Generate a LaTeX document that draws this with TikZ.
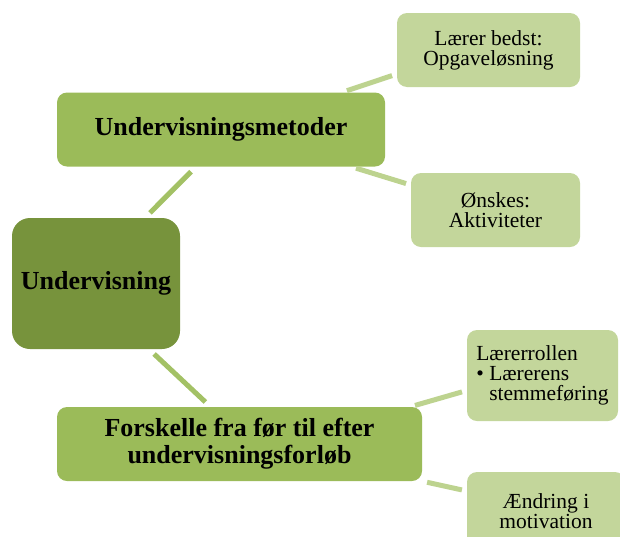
\documentclass[tikz,border=0pt]{standalone}
\usepackage{fontspec}
\setmainfont{Liberation Serif}
\usepackage{xcolor}
\usepackage{tikz}
\usetikzlibrary{positioning,calc}
\definecolor{rootgreen}{HTML}{77933C}
\definecolor{midgreen}{HTML}{9BBB59}
\definecolor{lightgreen}{HTML}{C3D69B}
\definecolor{trunkline}{HTML}{A3C165}
\definecolor{branchline}{HTML}{BDD38F}

\begin{document}
\begin{tikzpicture}[
    x=1pt, y=-1pt,
    rootbox/.style={rectangle, rounded corners=18pt, fill=rootgreen, inner sep=0pt, minimum width=168pt, minimum height=131pt, text centered, font=\fontsize{26}{28}\selectfont\bfseries},
    topic/.style={rectangle, rounded corners=10pt, fill=midgreen, inner sep=0pt, minimum height=74pt, align=center, font=\fontsize{26}{27}\selectfont\bfseries},
    leaf/.style={rectangle, rounded corners=10pt, fill=lightgreen, inner sep=0pt, minimum height=74pt, align=center, font=\fontsize{21.5}{20}\selectfont},
    trunk/.style={line width=5pt, color=trunkline, shorten <=7pt, shorten >=7pt},
    branch/.style={line width=5pt, color=branchline, shorten <=5pt, shorten >=5pt}
]
    \useasboundingbox (0,0) rectangle (620,536);

    % Root
    \node[rootbox] (root) at (96,283.5) {Undervisning};

    % Topics
    \node[topic, minimum width=328pt] (metoder) at (221,129.5) {Undervisningsmetoder};
    \node[topic, minimum width=365pt] (forskelle) at (239.5,444) {Forskelle fra før til efter\\undervisningsforløb};

    % Leaves
    \node[leaf, minimum width=183pt] (opgave) at (488.5,50) {Lærer bedst:\\Opgaveløsning};
    \node[leaf, minimum width=169pt] (aktivitet) at (495.5,210) {Ønskes:\\Aktiviteter};
    \node[leaf, minimum width=151pt, minimum height=91pt, align=left] (rolle) at (542.5,375.5) {Lærerrollen\\\textbullet\ Lærerens\\\hphantom{\textbullet\ }stemmeføring};
    \node[leaf, minimum width=158pt, minimum height=78pt] (motivation) at (546,511) {Ændring i\\motivation};

    \draw[trunk] ([xshift=49pt]root.north) -- ([xshift=-25pt]metoder.south);
    \draw[trunk] ([xshift=53pt]root.south) -- ([xshift=-29pt]forskelle.north);
    \draw[branch] ([xshift=-43pt]metoder.north east) -- ([yshift=-24pt]opgave.west);
    \draw[branch] ([xshift=-34pt]metoder.south east) -- ([yshift=25pt]aktivitet.west);
    \draw[branch] ([xshift=-12pt]forskelle.north east) -- ([yshift=-15pt]rolle.west);
    \draw[branch] (forskelle.south east) -- ([yshift=20pt]motivation.west);
\end{tikzpicture}
\end{document}
